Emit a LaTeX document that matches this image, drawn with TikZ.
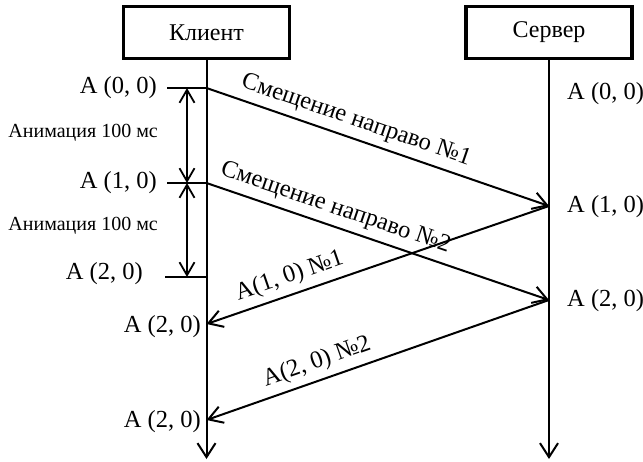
\documentclass[tikz,border=0pt]{standalone}
\usepackage{fontspec}
\setmainfont{Liberation Serif}
\usetikzlibrary{arrows.meta}
\begin{document}
\begin{tikzpicture}[x=1pt,y=-1pt,
  box/.style={draw, line width=3.2pt, minimum width=166pt, minimum height=52pt, inner sep=0pt, font=\fontsize{24}{27}\selectfont},
  life/.style={line width=2pt, -{Straight Barb[length=14pt,width=18pt,line width=2pt]}},
  msg/.style={line width=2pt, -{Straight Barb[length=14pt,width=17pt,line width=2pt]}},
  dbl/.style={line width=1.8pt, {Straight Barb[length=13pt,width=15pt,line width=1.8pt]}-{Straight Barb[length=13pt,width=15pt,line width=1.8pt]}},
  tick/.style={line width=1.5pt},
  lbl/.style={font=\fontsize{24.5}{27}\selectfont, inner sep=0pt},
  anim/.style={font=\fontsize{20}{23}\selectfont, inner sep=0pt},
  mlbl/.style={font=\fontsize{24.5}{27}\selectfont, sloped, above, inner sep=0pt, yshift=6pt}
]
\useasboundingbox (0,0) rectangle (643,461);

\node[box] (cl) at (206.5,32.5) {Клиент};
\node[box] (sv) at (549,32.5) {Сервер};

\coordinate (clEnd) at (206.5,459);
\coordinate (svEnd) at (549,459);
\draw[life] (cl.south) -- (clEnd);
\draw[life] (sv.south) -- (svEnd);

% points on lifelines
\coordinate (c0) at (206.5,88);
\coordinate (c1) at (206.5,183);
\coordinate (c2) at (206.5,277);
\coordinate (c3) at (206.5,324);
\coordinate (c4) at (206.5,420);
\coordinate (s1) at (549,206);
\coordinate (s2) at (549,300);

% ticks
\coordinate (t0) at (167,88);
\coordinate (t1) at (167,183);
\coordinate (t2) at (165,277);
\draw[tick] (t0) -- (c0);
\draw[tick] (t1) -- (c1);
\draw[tick] (t2) -- (c2);

% double arrows
\coordinate (d0) at (187,88);
\coordinate (d1) at (187,183);
\coordinate (d2) at (187,277);
\draw[dbl] (d0) -- (d1);
\draw[dbl] (d1) -- (d2);

% left labels
\node[lbl, anchor=east] (l0) at (157,88) {A (0, 0)};
\node[lbl, anchor=east] (l1) at (157,183) {A (1, 0)};
\node[lbl, anchor=east] (l2) at (143,274) {A (2, 0)};
\node[lbl, anchor=east] (l3) at (201,327) {A (2, 0)};
\node[lbl, anchor=east] (l4) at (201,422) {A (2, 0)};
\node[anim, anchor=east] (a0) at (158,133) {Анимация 100 мс};
\node[anim, anchor=east] (a1) at (158,226) {Анимация 100 мс};

% right labels
\node[lbl, anchor=west] (r0) at (567,94) {A (0, 0)};
\node[lbl, anchor=west] (r1) at (567,207) {A (1, 0)};
\node[lbl, anchor=west] (r2) at (567,301) {A (2, 0)};

% messages
\draw[msg] (c0) -- node[mlbl, pos=0.42] (m1) {Смещение направо №1} (s1);
\draw[msg] (c1) -- node[mlbl, pos=0.36] (m2) {Смещение направо №2} (s2);
\draw[msg] (s1) -- node[mlbl, pos=0.74] (m3) {A(1, 0) №1} (c3);
\draw[msg] (s2) -- node[mlbl, pos=0.66] (m4) {A(2, 0) №2} (c4);
\end{tikzpicture}
\end{document}
